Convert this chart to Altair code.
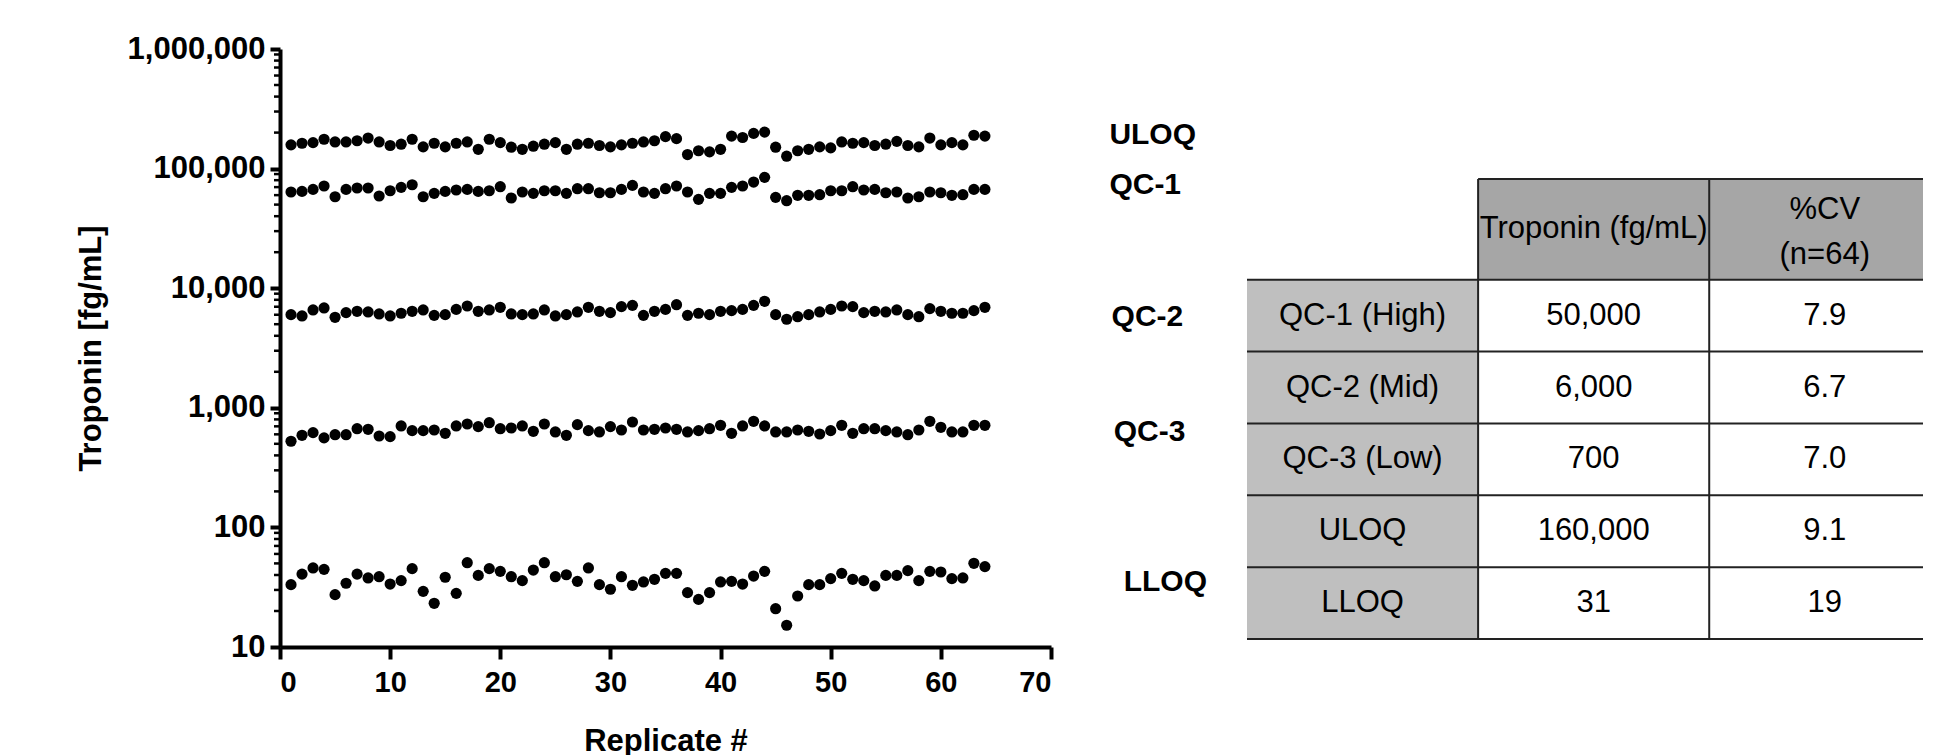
import altair as alt
import pandas as pd

# ---------------- data ----------------
replicates = list(range(1, 65))

uloq = [158000, 163000, 165000, 176000, 167000, 167000, 171000, 180000, 167000, 156000,
        160000, 176000, 152000, 163000, 152000, 163000, 167000, 145000, 176000, 165000,
        151000, 145000, 154000, 160000, 165000, 145000, 160000, 163000, 156000, 152000,
        158000, 163000,
        167000, 171000, 185000, 178000, 131000, 141000, 138000, 145000, 187000, 182000,
        197000, 202000, 151000, 127000, 141000, 145000, 152000, 149000, 167000, 163000,
        165000, 156000, 160000, 169000, 156000, 152000, 180000, 158000, 165000, 158000,
        190000, 187000]

qc1 = [63700, 64500, 67000, 71500, 58200, 67000, 68800, 68800, 59000, 65300,
       69700, 73300, 58200, 62100, 64500, 66200, 67000, 64500, 65300, 70600,
       56800, 63700, 62100, 65300, 65300, 62100, 67900, 67900, 62800, 62800,
       67000, 72400,
       63700, 62100, 67900, 71500, 63700, 55300, 62100, 62100, 69700, 71500,
       77200, 84500, 57500, 53900, 59800, 59800, 60500, 65300, 65300, 70600,
       66200, 67000, 62800, 63700, 56800, 58200, 63700, 62800, 59800, 60500,
       67000, 67000]

qc2 = [6010, 5860, 6580, 6840, 5710, 6250, 6410, 6330, 6090, 5860,
       6170, 6410, 6580, 5930, 6010, 6650, 7100, 6410, 6580, 6920,
       6090, 6010, 6090, 6580, 5860, 6010, 6330, 6920, 6410, 6250,
       7010, 7190,
       5930, 6410, 6650, 7280, 5930, 6170, 6010, 6410, 6490, 6650,
       7190, 7770, 6010, 5500, 5780, 6010, 6330, 6650, 7100, 7010,
       6250, 6410, 6330, 6580, 6010, 5780, 6750, 6410, 6170, 6170,
       6490, 6920]

qc3 = [525, 589, 620, 560, 596, 596, 669, 661, 581, 574,
       705, 644, 644, 652, 612, 705, 732, 696, 751, 669,
       678, 705, 636, 732, 628, 589, 723, 644, 628, 696,
       652, 761, 652, 661, 678, 661, 628, 644, 669, 714,
       612, 705, 771, 705, 628, 628, 652, 636, 604, 644,
       714, 612, 669, 669, 644, 628, 596, 652, 771, 687,
       628, 628, 714, 714]

lloq = [33.2, 40.7, 45.8, 44.6, 27.4, 34.1, 40.7, 37.8, 38.7, 33.6,
        35.9, 45.2, 29.2, 23.2, 38.3, 28.1, 50.7, 39.7, 45.2, 42.9,
        38.7, 35.9, 44.0, 50.7, 38.7, 40.2, 35.4, 45.8, 33.2, 30.4,
        38.7, 32.8,
        35.0, 36.8, 41.3, 41.3, 28.5, 25.0, 28.5, 35.0, 35.4, 33.6,
        39.2, 42.9, 20.9, 15.2, 26.7, 33.2, 33.2, 37.3, 41.3, 36.8,
        35.9, 32.4, 39.7, 39.7, 43.5, 35.9, 42.9, 42.4, 37.3, 37.8,
        50.1, 47.0]

series_names = ["ULOQ", "QC-1", "QC-2", "QC-3", "LLOQ"]
series_values = [uloq, qc1, qc2, qc3, lloq]

y_tick_values = [10, 100, 1000, 10000, 100000, 1000000]
x_tick_values = [0, 10, 20, 30, 40, 50, 60, 70]

table_rows = ["QC-1 (High)", "QC-2 (Mid)", "QC-3 (Low)", "ULOQ", "LLOQ"]
table_troponin = ["50,000", "6,000", "700", "160,000", "31"]
table_cv = ["7.9", "6.7", "7.0", "9.1", "19"]
table_headers = ["", ["Troponin (fg/mL)"], ["%CV", "(n=64)"]]

# ---------------- layout / style ----------------
FONT = "Liberation Sans"
label_x = [75.3, 75.3, 75.5, 75.7, 76.6]
label_y = [191000, 73000, 5740, 628, 35]

rows = []
for name, vals in zip(series_names, series_values):
    for r, v in zip(replicates, vals):
        rows.append({"replicate": r, "series": name, "value": v})
df = pd.DataFrame(rows)

minor_vals = [m * 10 ** k for k in range(1, 6) for m in range(2, 10)]
minor_df = pd.DataFrame({"v": minor_vals})
labels_df = pd.DataFrame({"name": series_names, "lx": label_x, "ly": label_y})

x_scale = alt.Scale(domain=[0, 70], nice=False, zero=False)
y_scale = alt.Scale(type="log", domain=[10, 1000000], nice=False)

points = alt.Chart(df).mark_circle(size=125, color="black", opacity=1).encode(
    x=alt.X("replicate:Q", scale=x_scale,
            axis=alt.Axis(values=x_tick_values, title="Replicate #", grid=False,
                          domainWidth=4, domainColor="black", tickWidth=4, tickSize=12,
                          tickColor="black", labelFont=FONT, labelFontWeight="bold",
                          labelFontSize=29, labelColor="black", labelPadding=9,
                          titleFont=FONT, titleFontWeight="bold", titleFontSize=31,
                          titleColor="black", titlePadding=29)),
    y=alt.Y("value:Q", scale=y_scale,
            axis=alt.Axis(values=y_tick_values, format=",d", title="Troponin [fg/mL]",
                          grid=False, domainWidth=4, domainColor="black", tickWidth=4,
                          tickSize=10, tickColor="black", labelFont=FONT,
                          labelFontWeight="bold", labelFontSize=31, labelColor="black",
                          labelPadding=5, titleFont=FONT, titleFontWeight="bold",
                          titleFontSize=31, titleColor="black", titlePadding=20)),
)

minor = alt.Chart(minor_df).mark_rule(color="black", strokeWidth=2.5).encode(
    y=alt.Y("v:Q", scale=y_scale),
    x=alt.value(-6),
    x2=alt.value(0),
)

labels = alt.Chart(labels_df).mark_text(
    font=FONT, fontWeight="bold", fontSize=30, align="left", baseline="middle", color="black"
).encode(
    x=alt.X("lx:Q", scale=x_scale),
    y=alt.Y("ly:Q", scale=y_scale),
    text="name:N",
)

scatter = alt.layer(minor, points, labels).properties(width=771, height=598)

# ---------------- table ----------------
HDR = 1.4
cells, rules, texts = [], [], []
for c in (1, 2):
    cells.append({"x0": c, "x1": c + 1, "y0": 0, "y1": HDR, "fill": "#a6a6a6"})
    lines = table_headers[c]
    if len(lines) == 1:
        texts.append({"xc": c + 0.5, "yc": HDR / 2, "t": lines[0]})
    else:
        texts.append({"xc": c + 0.5, "yc": HDR * 0.31, "t": lines[0]})
        texts.append({"xc": c + 0.5, "yc": HDR * 0.755, "t": lines[1]})
for r, (lab, tro, cv) in enumerate(zip(table_rows, table_troponin, table_cv)):
    y0 = HDR + r
    cells.append({"x0": 0, "x1": 1, "y0": y0, "y1": y0 + 1, "fill": "#bfbfbf"})
    cells.append({"x0": 1, "x1": 2, "y0": y0, "y1": y0 + 1, "fill": "#ffffff"})
    cells.append({"x0": 2, "x1": 3, "y0": y0, "y1": y0 + 1, "fill": "#ffffff"})
    for c, t in enumerate((lab, tro, cv)):
        texts.append({"xc": c + 0.5, "yc": y0 + 0.5, "t": t})
nrows = len(table_rows)
rules.append({"x0": 1, "x1": 3, "y0": 0, "y1": 0})
for r in range(nrows + 1):
    rules.append({"x0": 0, "x1": 3, "y0": HDR + r, "y1": HDR + r})
for c in (1, 2):
    rules.append({"x0": c, "x1": c, "y0": 0, "y1": HDR + nrows})

tx = alt.Scale(domain=[0, 2.925], nice=False, zero=False)
ty = alt.Scale(domain=[-1.81, 6.51], nice=False, zero=False, reverse=True)

cell_layer = alt.Chart(pd.DataFrame(cells)).mark_rect(clip=True).encode(
    x=alt.X("x0:Q", scale=tx, axis=None), x2="x1:Q",
    y=alt.Y("y0:Q", scale=ty, axis=None), y2="y1:Q",
    color=alt.Color("fill:N", scale=None),
)
rule_layer = alt.Chart(pd.DataFrame(rules)).mark_rule(clip=True, color="#222222", strokeWidth=2).encode(
    x=alt.X("x0:Q", scale=tx, axis=None), x2="x1:Q",
    y=alt.Y("y0:Q", scale=ty, axis=None), y2="y1:Q",
)
text_layer = alt.Chart(pd.DataFrame(texts)).mark_text(
    font=FONT, fontSize=31, color="black", align="center", baseline="middle", clip=True,
).encode(
    x=alt.X("xc:Q", scale=tx, axis=None),
    y=alt.Y("yc:Q", scale=ty, axis=None),
    text="t:N",
)
table = alt.layer(cell_layer, rule_layer, text_layer).properties(width=676, height=598)

chart = alt.hconcat(scatter, table, spacing=39).properties(
    padding={"left": 67, "top": 25, "right": 0, "bottom": 0},
    background="white",
).configure_view(stroke=None)

chart.save("out.html", embed_options={"renderer": "svg", "actions": False})
